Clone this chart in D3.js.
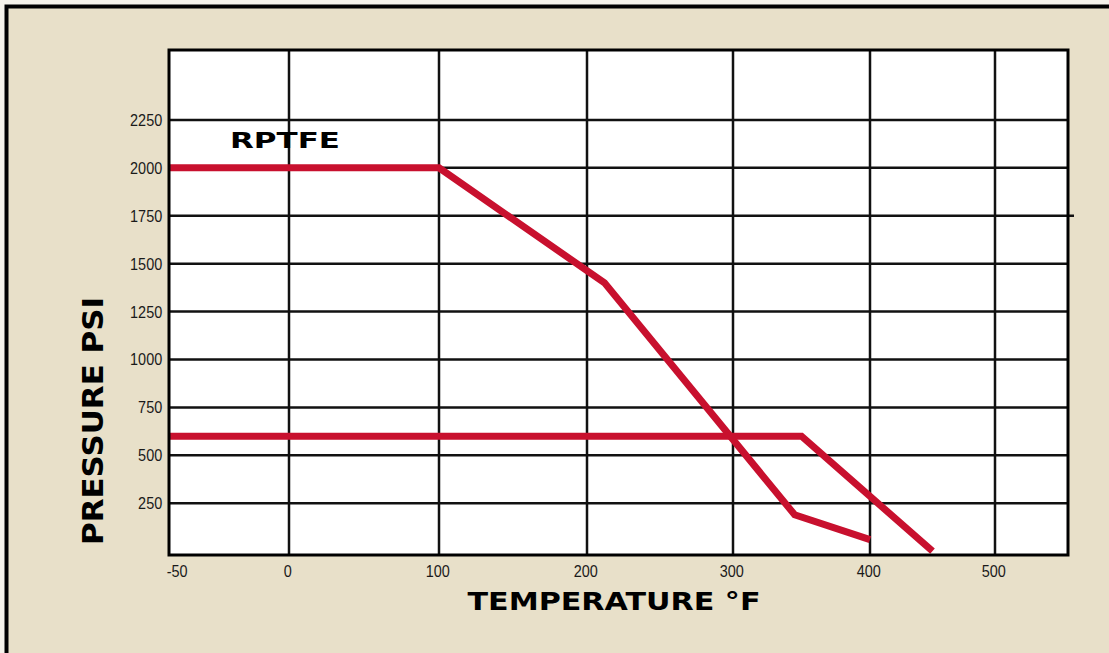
<!DOCTYPE html>
<html>
<head>
<meta charset="utf-8">
<script src="https://cdn.jsdelivr.net/npm/d3@7"></script>
<style>
  body { margin: 0; background: #f5f2ea; }
  svg { display: block; }
  .tick-label { font-family: "Liberation Sans", Arial, sans-serif; font-size: 17px; fill: #1a1a1a; }
  .title { font-family: "DejaVu Sans", sans-serif; font-weight: 900; fill: #000; }
</style>
</head>
<body>
<div id="chart"></div>
<script>
// chart data
const xTicks = [-50, 0, 100, 200, 300, 400, 500];
const yTicks = [250, 500, 750, 1000, 1250, 1500, 1750, 2000, 2250];

const rptfeTemp = [-50, 100, 212, 345, 400];
const rptfePsi = [2000, 2000, 1400, 190, 60];

const lowerTemp = [-50, 350, 450];
const lowerPsi = [600, 600, 0];

const seriesLabel = 'RPTFE';
const xTitle = 'TEMPERATURE °F';
const yTitle = 'PRESSURE PSI';

// layout
const width = 1109, height = 653;
const plot = { left: 169, right: 1068, top: 50, bottom: 555 };
// the printed grid is not evenly spaced, so x is a piecewise linear scale
const xDomain = [-50, 0, 100, 200, 300, 400, 500, 558];
const xRange = [169, 289, 439, 587, 733, 870, 995, 1068];
const red = '#c8102e';
const narrow = 'scale(0.85,1)'; // condensed look for tick numbers

const svg = d3.select('#chart').append('svg')
  .attr('width', width)
  .attr('height', height);

// background panel with black top/left border
svg.append('rect')
  .attr('x', 5).attr('y', 5)
  .attr('width', width - 5).attr('height', height - 5)
  .attr('fill', '#e8e0c9');
svg.append('path')
  .attr('d', `M6.5,${height} V6.5 H${width}`)
  .attr('fill', 'none')
  .attr('stroke', '#000')
  .attr('stroke-width', 4);

const x = d3.scaleLinear().domain(xDomain).range(xRange);
const y = d3.scaleLinear().domain([-20, 2615]).range([plot.bottom, plot.top]);

svg.append('rect')
  .attr('x', plot.left).attr('y', plot.top)
  .attr('width', plot.right - plot.left)
  .attr('height', plot.bottom - plot.top)
  .attr('fill', '#fff');

// grid
const grid = svg.append('g').attr('stroke', '#111').attr('stroke-width', 2.5);
grid.selectAll('line.v')
  .data(xTicks.filter(d => d > -50))
  .enter().append('line')
    .attr('class', 'v')
    .attr('x1', d => x(d)).attr('x2', d => x(d))
    .attr('y1', plot.top).attr('y2', plot.bottom);
grid.selectAll('line.h')
  .data(yTicks)
  .enter().append('line')
    .attr('class', 'h')
    .attr('x1', plot.left)
    .attr('x2', d => d === 1750 ? plot.right + 6 : plot.right)
    .attr('y1', d => y(d)).attr('y2', d => y(d));

// series
svg.append('clipPath').attr('id', 'clip')
  .append('rect')
    .attr('x', plot.left).attr('y', plot.top)
    .attr('width', plot.right - plot.left)
    .attr('height', plot.bottom - plot.top);

const line = d3.line().x(d => x(d[0])).y(d => y(d[1]));
const series = [
  d3.zip(rptfeTemp, rptfePsi),
  d3.zip(lowerTemp, lowerPsi)
];
svg.append('g').attr('clip-path', 'url(#clip)')
  .selectAll('path')
  .data(series)
  .enter().append('path')
    .attr('d', line)
    .attr('fill', 'none')
    .attr('stroke', red)
    .attr('stroke-width', 7)
    .attr('stroke-linejoin', 'miter');

// frame
svg.append('rect')
  .attr('x', plot.left).attr('y', plot.top)
  .attr('width', plot.right - plot.left)
  .attr('height', plot.bottom - plot.top)
  .attr('fill', 'none')
  .attr('stroke', '#000')
  .attr('stroke-width', 3);

// axes (labels only, grid drawn above)
const xAxis = svg.append('g')
  .attr('transform', `translate(0,${plot.bottom + 4})`)
  .call(d3.axisBottom(x).tickValues(xTicks).tickFormat(d => String(d)).tickSize(0).tickPadding(6));
xAxis.select('.domain').remove();
xAxis.selectAll('text')
  .attr('class', 'tick-label')
  .attr('transform', narrow)
  .attr('dx', d => d === -50 ? 9 : -2);

const yAxis = svg.append('g')
  .attr('transform', `translate(${plot.left},0)`)
  .call(d3.axisLeft(y).tickValues(yTicks).tickFormat(d => String(d)).tickSize(0).tickPadding(8));
yAxis.select('.domain').remove();
yAxis.selectAll('text')
  .attr('class', 'tick-label')
  .attr('transform', narrow);

// titles
svg.append('text')
  .attr('class', 'title')
  .attr('x', 230).attr('y', 148)
  .attr('font-size', 22)
  .attr('textLength', 110)
  .attr('lengthAdjust', 'spacingAndGlyphs')
  .text(seriesLabel);

svg.append('text')
  .attr('class', 'title')
  .attr('x', 614).attr('y', 610)
  .attr('text-anchor', 'middle')
  .attr('font-size', 25)
  .attr('textLength', 293)
  .attr('lengthAdjust', 'spacingAndGlyphs')
  .text(xTitle);

svg.append('text')
  .attr('class', 'title')
  .attr('transform', 'translate(103,421) rotate(-90)')
  .attr('text-anchor', 'middle')
  .attr('font-size', 28)
  .attr('textLength', 248)
  .attr('lengthAdjust', 'spacingAndGlyphs')
  .text(yTitle);
</script>
</body>
</html>
